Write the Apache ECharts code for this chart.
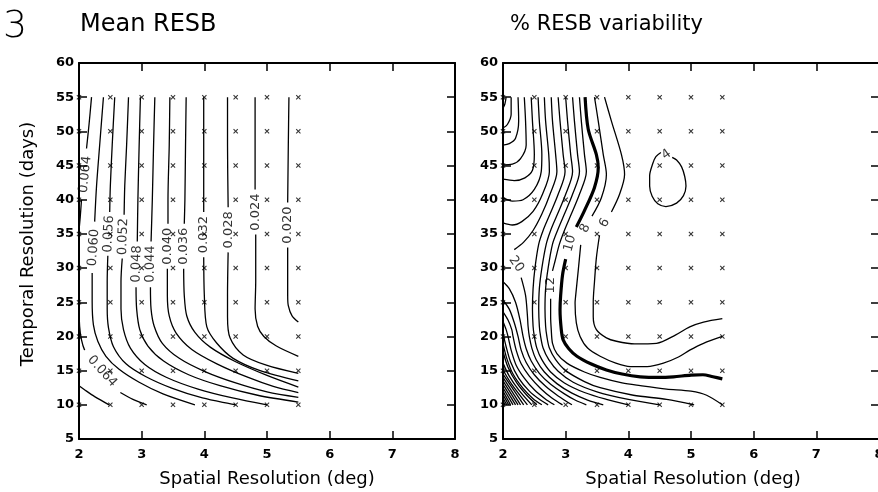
<!DOCTYPE html>
<html><head><meta charset="utf-8">
<script src="https://cdn.jsdelivr.net/npm/echarts@6/dist/echarts.min.js"></script>
<style>html,body{margin:0;padding:0;background:#fff}#c{width:878px;height:492px}</style>
</head><body><div id="c"></div>
<script>
// ---- axis ticks ----
const xTicks = [2, 3, 4, 5, 6, 7, 8];
const yTicks = [5, 10, 15, 20, 25, 30, 35, 40, 45, 50, 55, 60];
// ---- sample grid (x markers) ----
const gridX = [2, 2.5, 3, 3.5, 4, 4.5, 5, 5.5];
const gridY = [10, 15, 20, 25, 30, 35, 40, 45, 50, 55];

// ---- Mean RESB contours: [spatial, temporal] points, null = gap for label ----
const m068 = [[2.0,12.8],[2.12,12.0],[2.25,11.2],[2.48,10.0]];
const m064a = [[2.20,55],[2.16,51],[2.12,47.5],null,[2.04,40.0],[2.02,37.5],[2.0,35.5]];
const m064b = [[2.0,25],[2.01,21.5],[2.04,19.5],[2.09,18.0],null,[2.66,11.8],[2.86,10.8],[3.08,10.0]];
const m060 = [[2.39,55],[2.33,48],[2.28,42],[2.25,36.8],null,[2.21,29.3],[2.21,25.1],[2.23,21.7],[2.30,19.3],[2.43,17.1],[2.64,15.2],[2.96,13.3],[3.34,11.6],[3.85,10.0]];
const m056 = [[2.57,55],[2.53,48],[2.5,42],[2.49,38.2],null,[2.46,31.8],[2.45,28],[2.45,24],[2.47,21.3],[2.55,18.5],[2.75,16.0],[3.07,14.1],[3.49,12.4],[3.97,11.0],[4.5,10.0]];
const m052 = [[2.79,55],[2.76,48],[2.73,42],[2.72,37.8],null,[2.69,31.4],[2.67,28],[2.67,24],[2.71,21],[2.82,18.3],[3.05,15.9],[3.4,14.0],[3.9,12.3],[4.45,11.0],[5.0,10.0]];
const m048 = [[2.98,55],[2.96,48],[2.94,40],[2.93,33.9],null,[2.91,27.2],[2.92,24],[2.97,21],[3.1,18.6],[3.35,16.4],[3.75,14.4],[4.25,12.8],[4.85,11.4],[5.5,10.4]];
const m044 = [[3.21,55],[3.19,48],[3.17,40],[3.15,33.9],null,[3.14,27.2],[3.15,24],[3.2,21.5],[3.33,19],[3.6,16.8],[4.0,14.9],[4.5,13.2],[5.0,11.9],[5.5,11.1]];
const m040 = [[3.45,55],[3.44,48],[3.42,40],[3.42,36.5],null,[3.41,29.9],[3.41,26],[3.44,23],[3.55,20.5],[3.8,18.1],[4.2,16.0],[4.7,14.0],[5.1,12.7],[5.5,11.8]];
const m036 = [[3.71,55],[3.70,48],[3.69,40],[3.68,36.5],null,[3.67,29.9],[3.68,26],[3.72,23],[3.85,20.6],[4.1,18.4],[4.5,16.3],[5.0,14.3],[5.5,12.6]];
const m032 = [[3.99,55],[3.99,48],[3.99,38.2],null,[3.99,31.6],[4.0,26],[4.04,21.4],[4.2,19.0],[4.46,16.8],[4.89,15.0],[5.5,13.5]];
const m028 = [[4.37,55],[4.37,48],[4.38,38.9],null,[4.38,32.3],[4.37,26],[4.37,22.9],[4.41,19.8],[4.62,17.3],[4.99,15.8],[5.5,14.6]];
const m024 = [[4.81,55],[4.81,48],[4.81,41.5],null,[4.82,34.9],[4.82,28],[4.81,24],[4.85,21.5],[4.95,20.0],[5.15,18.6],[5.5,17.1]];
const m020 = [[5.35,55],[5.34,48],[5.33,39.6],null,[5.33,33.0],[5.33,26],[5.34,24.5],[5.4,23.0],[5.5,22.1]];
const meanContours = [m068, m064a, m064b, m060, m056, m052, m048, m044, m040, m036, m032, m028, m024, m020];
const meanLabelText = ['0.064','0.060','0.056','0.052','0.048','0.044','0.040','0.036','0.032','0.028','0.024','0.020','0.064'];
const meanLabelPos = [[2.10,43.7],[2.235,33],[2.475,35],[2.705,34.6],[2.92,30.6],[3.14,30.6],[3.41,33.2],[3.67,33.2],[3.99,34.9],[4.38,35.6],[4.82,38.2],[5.33,36.3],[2.37,14.9]];

// ---- % RESB variability contours ----
const r04 = [[4.52,46.9],[4.44,46.3],[4.39,45.3],[4.34,43.5],[4.34,42.0],[4.38,40.5],[4.47,39.4],[4.6,39.0],[4.77,39.5],[4.88,40.6],[4.92,42.0],[4.90,43.4],[4.85,44.8],[4.77,45.8],[4.70,46.2]];
const r06 = [[3.62,55],[3.73,51.5],[3.89,46.6],[3.94,43.7],[3.86,40.8],[3.73,38.2],null,[3.54,34.8],[3.49,31.5],[3.46,28],[3.44,25],[3.44,22.9],[3.49,21.0],[3.65,19.8],[3.81,19.3],[4.1,18.9],[4.45,19.0],[4.75,20.2],[4.98,21.4],[5.2,22.1],[5.5,22.6]];
const r08 = [[3.46,55],[3.52,51.5],[3.60,46.6],[3.65,43.7],[3.57,40.3],[3.42,37.6],null,[3.24,33.4],[3.20,29.6],[3.16,26],[3.15,24.9],[3.17,22],[3.23,20.0],[3.35,18.3],[3.55,17.1],[3.8,16.1],[4.03,15.6],[4.3,15.6],[4.56,16.1],[4.8,17.0],[4.98,18.0],[5.2,19.0],[5.5,20.0]];
const r10 = [[3.31,55],[3.36,50.3],[3.49,46.6],[3.52,44.7],[3.46,41.8],[3.30,38.4],[3.17,36.0],null,[3.0,31.3],[2.95,29],[2.92,26],[2.91,23.9],[2.93,21],[2.96,19.5],[3.05,18.2],[3.18,17.1],[3.4,16.0],[3.65,15.1],[3.9,14.5],[4.19,14.1],[4.5,14.0],[4.72,14.1],[5.0,14.35],[5.19,14.4],[5.35,14.1],[5.5,13.8]];
const r12 = [[3.22,55],[3.25,51.5],[3.30,46.6],[3.33,44.1],[3.22,40.8],[3.09,37.9],[2.98,35.5],[2.90,33.5],[2.83,31],[2.79,29.6],null,[2.76,25.5],[2.76,23],[2.77,21],[2.79,19],[2.86,17.5],[3.02,16.1],[3.3,14.8],[3.55,14.0],[3.9,13.2],[4.19,12.8],[4.61,12.3],[5.0,12.0],[5.25,11.4],[5.5,10.0]];
const r14 = [[3.11,55],[3.14,51.5],[3.19,46.6],[3.22,44.1],[3.11,40.8],[2.98,37.9],[2.87,35.5],[2.79,33.5],[2.72,30],[2.68,27],[2.67,24],[2.68,21.5],[2.70,20],[2.74,18.3],[2.84,16.6],[3.0,15.0],[3.3,13.4],[3.55,12.5],[4.08,11.4],[4.61,10.8],[5.05,10.0]];
const r16 = [[3.00,55],[3.03,51.5],[3.08,46.6],[3.11,44.1],[3.00,40.8],[2.87,37.9],[2.76,35.5],[2.69,33.5],[2.62,30],[2.58,27],[2.57,24],[2.58,21.5],[2.60,20],[2.64,18.3],[2.73,16.6],[2.88,14.9],[3.12,13.3],[3.5,11.9],[4.0,10.8],[4.5,10.0]];
const r18 = [[2.88,55],[2.91,51.5],[2.96,46.6],[2.99,44.1],[2.88,40.8],[2.75,37.9],[2.64,35.5],[2.57,33.5],[2.51,30],[2.48,27],[2.47,24],[2.48,21.5],[2.50,20],[2.54,18.3],[2.62,16.6],[2.76,14.8],[2.98,13.2],[3.3,11.8],[3.65,10.8],[4.0,10.0]];
const r20 = [[2.77,55],[2.79,51.5],[2.84,46.6],[2.86,44.1],[2.75,40.8],[2.62,37.9],[2.48,35.5],[2.33,33.8],[2.18,32.7],null,[2.29,28.6],[2.36,26],[2.39,23],[2.40,21.5],[2.42,20],[2.46,18.3],[2.53,16.6],[2.66,14.8],[2.86,13.1],[3.1,11.7],[3.35,10.7],[3.6,10.0]];
const r22a = [[2.66,55],[2.68,51.5],[2.73,46.6],[2.74,44.1],[2.63,40.8],[2.48,38.3],[2.3,36.8],[2.15,36.3],[2.0,36.6]];
const r24a = [[2.56,55],[2.58,51.5],[2.62,46.6],[2.61,44.1],[2.5,41.5],[2.32,40.0],[2.15,39.8],[2.0,40.3]];
const r26a = [[2.45,55],[2.47,51.5],[2.50,46.6],[2.47,44.3],[2.35,43.2],[2.18,42.8],[2.0,43.0]];
const r28a = [[2.34,55],[2.36,51.5],[2.37,48],[2.28,46],[2.15,45.2],[2.0,45.1]];
const r30a = [[2.24,55],[2.25,51.5],[2.2,49],[2.1,48.2],[2.0,48.0]];
const r32a = [[2.13,55],[2.13,52.5],[2.07,51],[2.0,50.5]];
const r34a = [[2.05,55],[2.03,54],[2.0,53.4]];
const r22b = [[2.0,28.0],[2.1,27],[2.2,25],[2.27,22.5],[2.32,20],[2.37,18.2],[2.45,16.4],[2.58,14.6],[2.76,13.0],[2.98,11.6],[3.15,10.7],[3.33,10.0]];
const r24b = [[2.0,25.3],[2.1,24],[2.18,22],[2.24,20],[2.29,18.0],[2.37,16.2],[2.5,14.4],[2.68,12.7],[2.88,11.3],[3.1,10.0]];
const r26b = [[2.0,23.6],[2.08,22.4],[2.14,21],[2.16,20],[2.21,18],[2.29,16],[2.42,14.2],[2.6,12.4],[2.78,11.0],[2.95,10.0]];
const r28b = [[2.0,22.2],[2.05,21],[2.08,20],[2.13,18],[2.21,15.8],[2.34,13.9],[2.5,12.2],[2.67,10.9],[2.82,10.0]];
const r30b = [[2.0,20.4],[2.05,18.5],[2.12,16.3],[2.25,13.9],[2.42,12.0],[2.58,10.8],[2.72,10.0]];
const r32b = [[2.0,19.0],[2.06,16.8],[2.16,14.5],[2.32,12.4],[2.48,10.9],[2.62,10.0]];
const r34b = [[2.0,17.8],[2.08,15.5],[2.22,13.2],[2.38,11.4],[2.54,10.0]];
const r36b = [[2.0,16.1],[2.1,14.2],[2.25,12.2],[2.46,10.0]];
const r38b = [[2.0,15.1],[2.14,13.0],[2.39,10.0]];
const r40b = [[2.0,14.5],[2.33,10.0]];
const r42b = [[2.0,14.0],[2.28,10.0]];
const r44b = [[2.0,13.5],[2.24,10.0]];
const r46b = [[2.0,13.0],[2.2,10.0]];
const r48b = [[2.0,12.5],[2.16,10.0]];
const r50b = [[2.0,12.0],[2.12,10.0]];
const r52b = [[2.0,11.5],[2.09,10.0]];
const r54b = [[2.0,11.0],[2.06,10.0]];
const r56b = [[2.0,10.5],[2.03,10.0]];
const varContours = [r04, r06, r08, r12, r14, r16, r18, r20, r22a, r24a, r26a, r28a, r30a, r32a, r34a,
  r22b, r24b, r26b, r28b, r30b, r32b, r34b, r36b, r38b, r40b, r42b, r44b, r46b, r48b, r50b, r52b, r54b, r56b];
const varBold = [r10];
const varLabelText = ['4', '6', '8', '10', '12', '20'];
const varLabelPos = [[4.61,46.6],[3.62,36.6],[3.31,35.8],[3.07,33.6],[2.76,27.5],[2.21,30.6]];

// ---- label orientation (style) ----
const meanLabelRot = [84, 86, 87, 88, 88, 89, 90, 90, 90, 90, 90, 90, -48];
const varLabelRot = [35, 60, 65, 75, 90, -55];

// ================== build ==================
const FONT = 'DejaVu Sans';
const chart = echarts.init(document.getElementById('c'), null, {renderer: 'canvas'});

function splitSegs(arr) {
  const segs = []; let cur = [];
  arr.forEach(p => { if (p === null) { if (cur.length) segs.push(cur); cur = []; } else cur.push(p); });
  if (cur.length) segs.push(cur);
  return segs;
}
const xAxes = [], yAxes = [];
function addAxes(gi) {
  const line = {show: true, onZero: false, lineStyle: {color: '#000', width: 2}};
  const tick = {show: true, inside: true, length: 8, lineStyle: {color: '#000', width: 1.5}};
  xAxes.push({gridIndex: gi, type: 'value', min: xTicks[0], max: xTicks[xTicks.length-1], interval: 1, position: 'bottom',
    axisLine: line, axisTick: tick, splitLine: {show: false},
    axisLabel: {show: true, margin: 9, color: '#000', fontFamily: FONT, fontWeight: 'bold', fontSize: 13, showMaxLabel: true, hideOverlap: false}});
  xAxes.push({gridIndex: gi, type: 'value', min: xTicks[0], max: xTicks[xTicks.length-1], interval: 1, position: 'top',
    axisLine: line, axisTick: tick, splitLine: {show: false}, axisLabel: {show: false}});
  yAxes.push({gridIndex: gi, type: 'value', min: yTicks[0], max: yTicks[yTicks.length-1], interval: 5, position: 'left',
    axisLine: line, axisTick: tick, splitLine: {show: false},
    axisLabel: {show: true, margin: 5, color: '#000', fontFamily: FONT, fontWeight: 'bold', fontSize: 13}});
  yAxes.push({gridIndex: gi, type: 'value', min: yTicks[0], max: yTicks[yTicks.length-1], interval: 5, position: 'right',
    axisLine: line, axisTick: tick, splitLine: {show: false}, axisLabel: {show: false}});
}
addAxes(0); addAxes(1);

const series = [];
function addContours(list, xi, yi, width) {
  list.forEach(c => splitSegs(c).forEach(seg => series.push({
    type: 'line', xAxisIndex: xi, yAxisIndex: yi, data: seg, showSymbol: false, symbol: 'none',
    smooth: 0.3, silent: true, animation: false, lineStyle: {color: '#000', width: width}, z: 3
  })));
}
addContours(meanContours, 0, 0, 1.3);
addContours(varContours, 2, 2, 1.3);
addContours(varBold, 2, 2, 3.2);

const pts = [];
gridX.forEach(x => gridY.forEach(y => pts.push([x, y])));
const xSym = 'path://M0,1.5L1.5,0L5,3.5L8.5,0L10,1.5L6.5,5L10,8.5L8.5,10L5,6.5L1.5,10L0,8.5L3.5,5Z';
[0, 2].forEach(i => series.push({type: 'scatter', xAxisIndex: i, yAxisIndex: i, data: pts, symbol: xSym,
  symbolSize: 5, itemStyle: {color: '#000'}, silent: true, z: 4}));

function addLabels(texts, pos, rots, i) {
  series.push({type: 'scatter', xAxisIndex: i, yAxisIndex: i, symbolSize: 1, silent: true, z: 5,
    itemStyle: {color: 'rgba(0,0,0,0)'},
    data: texts.map((t, k) => ({name: t, value: pos[k], label: {rotate: rots[k]}})),
    label: {show: true, position: 'inside', formatter: '{b}', color: '#000', fontFamily: FONT, fontSize: 13}});
}
addLabels(meanLabelText, meanLabelPos, meanLabelRot, 0);
addLabels(varLabelText, varLabelPos, varLabelRot, 2);

const T = (text, x, y, size, extra) => Object.assign({type: 'text', x: x, y: y,
  style: {text: text, font: size + 'px "' + FONT + '"', fill: '#000', textAlign: 'center', textVerticalAlign: 'middle'}}, extra || {});

chart.setOption({
  animation: false,
  backgroundColor: '#fff',
  grid: [{left: 79, top: 63, width: 376, height: 376, containLabel: false, outerBoundsMode: 'none'},
         {left: 503, top: 63, width: 376, height: 376, containLabel: false, outerBoundsMode: 'none'}],
  xAxis: xAxes, yAxis: yAxes, series: series,
  graphic: [
    {type: 'text', x: 15, y: 27, style: {text: '3', font: '200 38px "' + FONT + '"', fill: '#000', textAlign: 'center', textVerticalAlign: 'middle'}},
    {type: 'text', x: 80, y: 25, style: {text: 'Mean RESB', font: '24px "' + FONT + '"', fill: '#000', textAlign: 'left', textVerticalAlign: 'middle'}},
    {type: 'text', x: 510, y: 25, style: {text: '% RESB variability', font: '21px "' + FONT + '"', fill: '#000', textAlign: 'left', textVerticalAlign: 'middle'}},
    T('Spatial Resolution (deg)', 267, 479, 18),
    T('Spatial Resolution (deg)', 693, 479, 18),
    T('Temporal Resolution (days)', 28, 244, 18, {rotation: Math.PI / 2})
  ]
});
</script></body></html>
